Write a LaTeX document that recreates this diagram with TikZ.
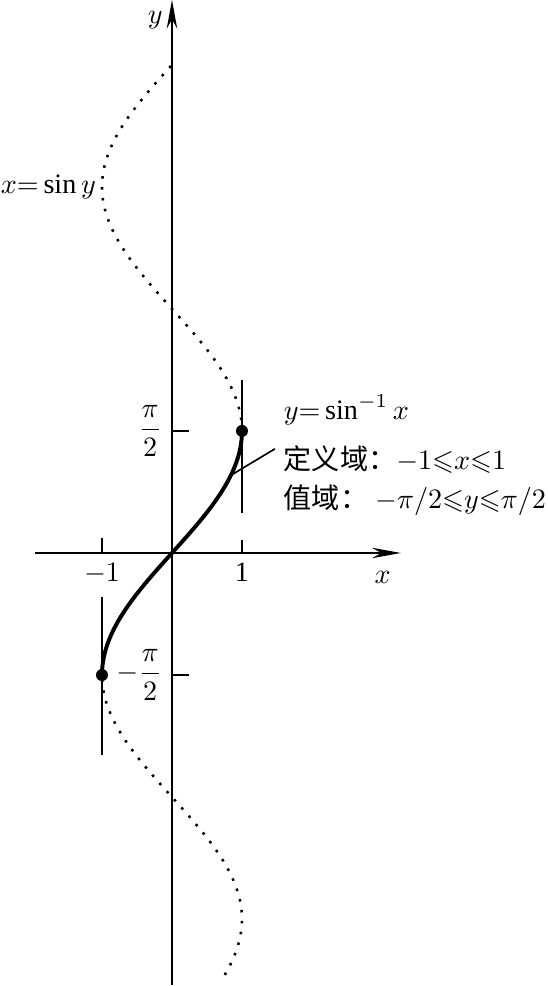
\documentclass[tikz,border=0pt]{standalone}
\usepackage{amsmath,amssymb}
\usepackage{fontspec}
\setmainfont{Liberation Serif}
\newfontfamily\cjk{Noto Sans CJK SC}
\usetikzlibrary{arrows.meta, positioning}

\begin{document}
\begin{tikzpicture}[x=0.875cm, y=0.97125cm,
    axis/.style={line width=1pt, -{Stealth[length=3.6mm, width=1.3mm]}},
    guide/.style={line width=0.6pt},
    inverse/.style={line width=1.4pt},
    sinecurve/.style={line width=0.9pt, dash pattern=on 0.9pt off 3pt},
    dot/.style={circle, fill, inner sep=0pt, minimum size=1.5mm}]
  \useasboundingbox (-2.457,-5.573) rectangle (5.371,7.117);

  % axes
  \coordinate (xs) at (-1.96,0);
  \coordinate (xe) at (3.27,0);
  \coordinate (ys) at (0,-5.56);
  \coordinate (ye) at (0,7.12);
  \draw[axis] (xs) -- (xe);
  \draw[axis] (ys) -- (ye);
  \node (xl) at (3.01,-0.32) {$x$};
  \node (yl) at (-0.24,6.86) {$y$};

  % ticks and guide lines
  \draw[guide] (1,0) -- (1,0.17);
  \draw[guide] (-1,0) -- (-1,0.19);
  \draw[guide] (1,0.51) -- (1,2.23);
  \draw[guide] (-1,-0.57) -- (-1,-2.6);
  \draw[guide] (0,pi/2) -- (0.24,pi/2);
  \draw[guide] (0,-pi/2) -- (0.24,-pi/2);
  \node[below] (one) at (1,0) {1};
  \node[below] (mone) at (-1,0) {$-1$};
  \node[left] (hpi) at (0,pi/2) {$\dfrac{\pi}{2}$};
  \node[left] (mhpi) at (0,-pi/2) {$-\dfrac{\pi}{2}$};

  % x = sin y
  \draw[sinecurve] plot[domain=pi/2:2*pi, samples=90] ({sin(\x r)}, \x);
  \draw[sinecurve] plot[domain=-5.43:-pi/2, samples=90] ({sin(\x r)}, \x);
  \coordinate (lo) at (-1,3*pi/2);
  \node[left, inner sep=2pt] (sinl) at (lo) {$x{=}\sin y$};

  % y = arcsin x
  \draw[inverse] plot[domain=-pi/2:pi/2, samples=80] ({sin(\x r)}, \x);
  \node[dot] (top) at (1,pi/2) {};
  \node[dot] (bot) at (-1,-pi/2) {};

  % labels
  \node[anchor=west, inner sep=0pt] (inv) at (1.59,1.84) {$y{=}\sin^{-1}x$};
  \node[anchor=west, inner sep=0pt] (dom) at (1.59,1.2)
    {{\cjk 定义域：}$-1{\leqslant}x{\leqslant}1$};
  \node[anchor=west, inner sep=0pt] (ran) at (1.59,0.68)
    {{\cjk 值域：}\ $-\pi/2{\leqslant}y{\leqslant}\pi/2$};
  \coordinate (c) at ({sin(1.0 r)},1.0);
  \coordinate (tip) at (1.47,1.34);
  \draw[guide] (c) -- (tip);
\end{tikzpicture}
\end{document}
